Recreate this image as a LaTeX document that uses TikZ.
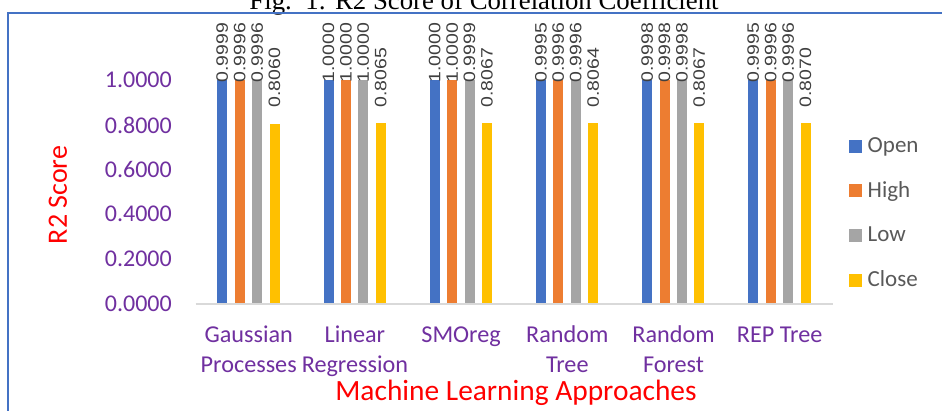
\documentclass[tikz,border=0pt]{standalone}
\usepackage{fontspec}
\usepackage{graphicx}
\setmainfont{Carlito}
\newfontfamily\lblfont{Liberation Sans}
\newfontfamily\ttlfont{Liberation Serif}
\definecolor{cOpen}{HTML}{4472C4}
\definecolor{cHigh}{HTML}{ED7D31}
\definecolor{cLow}{HTML}{A5A5A5}
\definecolor{cClose}{HTML}{FFC000}
\definecolor{cPurple}{HTML}{7030A0}
\definecolor{cRed}{HTML}{FF0000}
\definecolor{cLbl}{HTML}{404040}
\definecolor{cLeg}{HTML}{595959}
\definecolor{cAxis}{HTML}{D9D9D9}
\definecolor{cFrame}{HTML}{4472C4}
\tikzset{
  ticklbl/.style={anchor=east, inner sep=0pt, text=cPurple, font=\fontsize{24}{24}\selectfont},
  catlbl/.style={anchor=base, inner sep=0pt, text=cPurple, font=\fontsize{24.2}{24.2}\selectfont},
  axtitle/.style={inner sep=0pt, text=cRed},
  datalbl/.style={rotate=90, anchor=west, inner sep=0pt, text=cLbl, font=\lblfont\fontsize{16.5}{16.5}\selectfont},
  legtxt/.style={anchor=base west, inner sep=0pt, text=cLeg, font=\fontsize{23}{23}\selectfont},
  barbox/.style={draw=none}
}
\newcommand{\dl}[1]{\scalebox{1.18}[1]{#1}}
\begin{document}
\begin{tikzpicture}[x=1pt,y=-1pt]
\useasboundingbox (0,0) rectangle (942,410);
\fill[white] (0,0) rectangle (942,410);
% title (cut at top, as in the reference)
\node[anchor=base, inner sep=0pt, font=\ttlfont\fontsize{26.8}{26.8}\selectfont] (title) at (484,9.5) {Fig.\ \ 1: R2 Score of Correlation Coefficient};
% frame
\draw[cFrame, line width=2pt] (7.5,412) -- (7.5,12.5) -- (944,12.5);
% y tick labels
\foreach \v/\lab [count=\i] in {0/0.0000,0.2/0.2000,0.4/0.4000,0.6/0.6000,0.8/0.8000,1/1.0000}
  \node[ticklbl] (tick\i) at (172,{303.3-223*\v}) {\lab};
% axis titles
\node[axtitle, rotate=90, font=\fontsize{28}{28}\selectfont] (ytitle) at (58,195) {R2 Score};
\node[axtitle, anchor=base, font=\fontsize{29.4}{29.4}\selectfont] (xtitle) at (516,400) {Machine Learning Approaches};
% baseline
\draw[cAxis, line width=2pt] (195.5,304) -- (833,304);
% bars
\foreach \a/\b/\c/\d [count=\i from 0] in {
  0.9999/0.9996/0.9996/0.8060,
  1.0000/1.0000/1.0000/0.8065,
  1.0000/1.0000/0.9999/0.8067,
  0.9995/0.9996/0.9996/0.8064,
  0.9998/0.9998/0.9998/0.8067,
  0.9995/0.9996/0.9996/0.8070}{
  \pgfmathsetmacro{\xz}{217.3+106.2*\i}
  \fill[cOpen]  (\xz,303.3) rectangle ({\xz+10},{303.3-223*\a});
  \fill[cHigh]  ({\xz+17.4},303.3) rectangle ({\xz+27.4},{303.3-223*\b});
  \fill[cLow]   ({\xz+34.8},303.3) rectangle ({\xz+44.8},{303.3-223*\c});
  \fill[cClose] ({\xz+52.2},303.3) rectangle ({\xz+62.2},{303.3-223*\d});
  \node[datalbl] (la\i) at ({\xz+5},82.5) {\dl{\a}};
  \node[datalbl] (lb\i) at ({\xz+22.4},82.5) {\dl{\b}};
  \node[datalbl] (lc\i) at ({\xz+39.8},82.5) {\dl{\c}};
  \node[datalbl] (ld\i) at ({\xz+57.2},107.5) {\dl{\d}};
}
% category labels
\foreach \p/\q [count=\i from 0] in {Gaussian/Processes, Linear/Regression, SMOreg/{}, Random/Tree, Random/Forest, REP Tree/{}}{
  \node[catlbl] (cat\i a) at ({248.7+106.2*\i},342.7) {\p};
  \node[catlbl] (cat\i b) at ({248.7+106.2*\i},372.7) {\q};
}
% legend
\foreach \n/\col/\yy in {Open/cOpen/146, High/cHigh/190.5, Low/cLow/235, Close/cClose/280}{
  \fill[\col] (849,{\yy-6.5}) rectangle (862,{\yy+6.5});
  \node[legtxt] (leg\n) at (867.5,{\yy+6.5}) {\n};
}
\end{tikzpicture}
\end{document}
